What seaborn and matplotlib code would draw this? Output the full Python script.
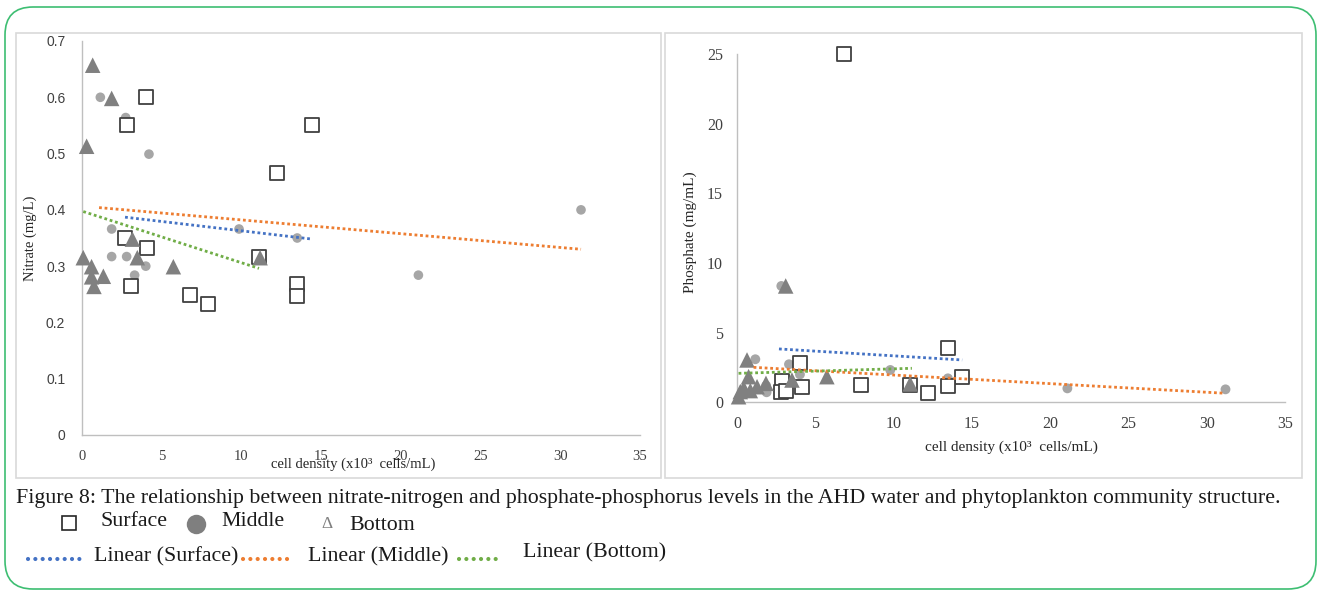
import numpy as np
import pandas as pd
import matplotlib
matplotlib.use("Agg")
import matplotlib.pyplot as plt
import seaborn as sns
from matplotlib.patches import FancyBboxPatch, Rectangle
from matplotlib.lines import Line2D
from matplotlib.transforms import IdentityTransform

# ---------------- data ----------------
# Left panel: Nitrate (mg/L) vs cell density (x10^3 cells/mL)
nit_surface_x = [4.0, 2.8, 14.4, 12.2, 2.7, 4.06, 11.1, 3.05, 6.8, 7.9, 13.5, 13.5]
nit_surface_y = [0.600, 0.550, 0.550, 0.466, 0.350, 0.333, 0.317, 0.265, 0.249, 0.233, 0.268, 0.247]
nit_middle_x = [1.15, 2.74, 4.2, 1.86, 9.85, 13.5, 1.86, 2.8, 4.0, 3.3, 31.3, 21.1]
nit_middle_y = [0.600, 0.564, 0.499, 0.366, 0.366, 0.350, 0.317, 0.317, 0.300, 0.284, 0.400, 0.284]
nit_bottom_x = [0.67, 1.86, 0.29, 3.16, 3.47, 0.08, 0.6, 0.6, 1.34, 0.75, 5.73, 11.17]
nit_bottom_y = [0.657, 0.598, 0.513, 0.348, 0.315, 0.315, 0.299, 0.281, 0.282, 0.264, 0.299, 0.315]
# linear trend lines (end points as shown)
nit_trend_surface_x = [2.7, 14.45]
nit_trend_surface_y = [0.387, 0.348]
nit_trend_middle_x = [1.07, 31.3]
nit_trend_middle_y = [0.404, 0.330]
nit_trend_bottom_x = [0.08, 11.1]
nit_trend_bottom_y = [0.397, 0.296]

# Right panel: Phosphate (mg/mL) vs cell density
pho_surface_x = [6.81, 13.45, 14.38, 13.5, 4.04, 4.13, 2.85, 2.81, 3.15, 7.91, 11.06, 12.19]
pho_surface_y = [25.0, 3.88, 1.79, 1.20, 2.80, 1.12, 1.55, 0.72, 0.84, 1.22, 1.27, 0.65]
pho_middle_x = [2.83, 1.17, 3.32, 4.02, 4.28, 2.87, 1.89, 9.79, 13.47, 21.1, 31.2, 1.86]
pho_middle_y = [8.35, 3.09, 2.73, 2.00, 0.96, 1.08, 0.72, 2.32, 1.72, 1.00, 0.93, 1.20]
pho_bottom_x = [3.11, 0.64, 5.74, 11.06, 3.51, 1.85, 1.28, 0.74, 0.21, 0.43, 0.85, 0.10]
pho_bottom_y = [8.35, 3.04, 1.84, 1.32, 1.60, 1.36, 1.12, 1.84, 0.77, 1.00, 0.84, 0.40]
pho_trend_surface_x = [2.68, 14.38]
pho_trend_surface_y = [3.83, 3.04]
pho_trend_middle_x = [1.06, 31.16]
pho_trend_middle_y = [2.51, 0.65]
pho_trend_bottom_x = [0.10, 11.17]
pho_trend_bottom_y = [2.08, 2.44]

x_ticks = [0, 5, 10, 15, 20, 25, 30, 35]
nit_ticks = [0, 0.1, 0.2, 0.3, 0.4, 0.5, 0.6, 0.7]
nit_tick_labels = ["0", "0.1", "0.2", "0.3", "0.4", "0.5", "0.6", "0.7"]
pho_ticks = [0, 5, 10, 15, 20, 25]

caption = ("Figure 8: The relationship between nitrate-nitrogen and phosphate-phosphorus levels "
           "in the AHD water and phytoplankton community structure.")
xlabel = "cell density (x10\u00b3  cells/mL)"

# ---------------- style ----------------
sns.set_theme(style="white")
plt.rcParams["font.family"] = ["Liberation Serif", "DejaVu Serif"]

W, H = 1319, 596
fig = plt.figure(figsize=(W / 100, H / 100), dpi=100)
fig.patch.set_facecolor("white")


def fr(x, y):
    return x / W, 1 - y / H


def axes_rect(x0, y0, x1, y1):
    return [x0 / W, 1 - y1 / H, (x1 - x0) / W, (y1 - y0) / H]


C_SURF_EDGE = "#404040"
C_MID = "#A6A6A6"
C_BOT = "#808080"
C_BLUE = "#4472C4"
C_ORANGE = "#ED7D31"
C_GREEN = "#70AD47"
SPINE = "#BFBFBF"

# panel frames
for (x0, y0, x1, y1) in [(16, 33, 661, 478), (665, 33, 1302, 478)]:
    fig.add_artist(Rectangle((x0, H - y1), x1 - x0, y1 - y0, transform=IdentityTransform(),
                             fill=False, edgecolor="#D9D9D9", lw=1.2, zorder=0))


def draw_panel(ax, sx, sy, mx, my, bx, by, trends, s_sq, s_ci, s_tr):
    sns.scatterplot(x=mx, y=my, ax=ax, marker="o", s=s_ci, color=C_MID,
                    edgecolor="none", linewidth=0, zorder=3, clip_on=False)
    sns.scatterplot(x=sx, y=sy, ax=ax, marker="s", s=s_sq, color="white",
                    edgecolor=C_SURF_EDGE, linewidth=1.3, zorder=4, clip_on=False)
    sns.scatterplot(x=bx, y=by, ax=ax, marker="^", s=s_tr, color=C_BOT,
                    edgecolor="none", linewidth=0, zorder=5, clip_on=False)
    for (tx, ty, col) in trends:
        sns.lineplot(x=tx, y=ty, ax=ax, color=col, lw=2.0, linestyle=(0, (1, 1)), zorder=6)
    for side in ["top", "right"]:
        ax.spines[side].set_visible(False)
    for side in ["left", "bottom"]:
        ax.spines[side].set_color(SPINE)
        ax.spines[side].set_linewidth(1.0)
    ax.set_facecolor("white")


# ---------------- left panel ----------------
ax1 = fig.add_axes(axes_rect(82, 41, 640, 435))
draw_panel(ax1, nit_surface_x, nit_surface_y, nit_middle_x, nit_middle_y, nit_bottom_x, nit_bottom_y,
           [(nit_trend_surface_x, nit_trend_surface_y, C_BLUE),
            (nit_trend_middle_x, nit_trend_middle_y, C_ORANGE),
            (nit_trend_bottom_x, nit_trend_bottom_y, C_GREEN)],
           s_sq=95, s_ci=48, s_tr=125)
ax1.set_xlim(0, 35)
ax1.set_ylim(0, 0.7)
ax1.set_xticks(x_ticks)
ax1.set_xticklabels([str(t) for t in x_ticks], fontsize=10.5, color="#404040")
ax1.set_yticks(nit_ticks)
ax1.set_yticklabels(nit_tick_labels, fontsize=10, color="#404040", family="Liberation Sans")
ax1.tick_params(axis="both", length=0)
ax1.tick_params(axis="y", pad=12)
ax1.tick_params(axis="x", pad=11)
ax1.set_xlabel(xlabel, fontsize=10.5, color="#262626")
ax1.xaxis.set_label_coords((353 - 82) / (640 - 82), (435 - 458) / (435 - 41))
ax1.set_ylabel("Nitrate (mg/L)", fontsize=10.5, color="#262626")
ax1.yaxis.set_label_coords((37 - 82) / (640 - 82), 0.5)

# ---------------- right panel ----------------
ax2 = fig.add_axes(axes_rect(737, 54, 1285, 402.3))
draw_panel(ax2, pho_surface_x, pho_surface_y, pho_middle_x, pho_middle_y, pho_bottom_x, pho_bottom_y,
           [(pho_trend_surface_x, pho_trend_surface_y, C_BLUE),
            (pho_trend_middle_x, pho_trend_middle_y, C_ORANGE),
            (pho_trend_bottom_x, pho_trend_bottom_y, C_GREEN)],
           s_sq=90, s_ci=50, s_tr=125)
ax2.set_xlim(0, 35)
ax2.set_ylim(0, 25)
ax2.set_xticks(x_ticks)
ax2.set_xticklabels([str(t) for t in x_ticks], fontsize=11.5, color="#404040")
ax2.set_yticks(pho_ticks)
ax2.set_yticklabels([str(t) for t in pho_ticks], fontsize=11.5, color="#404040")
ax2.tick_params(axis="both", length=4, width=1, color=SPINE, direction="out")
ax2.tick_params(axis="y", pad=6)
ax2.tick_params(axis="x", pad=6)
ax2.set_xlabel(xlabel, fontsize=11, color="#262626")
ax2.xaxis.set_label_coords(0.5, (402.3 - 441) / (402.3 - 54))
ax2.set_ylabel("Phosphate (mg/mL)", fontsize=11, color="#262626")
ax2.yaxis.set_label_coords((697 - 737) / (1285 - 737), (402.3 - 232) / (402.3 - 54))

# ---------------- caption & legend ----------------
cap = fig.text(*fr(16, 498), caption, fontsize=13.5, ha="left", va="center", color="#1a1a1a")
fig.canvas.draw()
w = cap.get_window_extent().width
cap.set_fontsize(13.5 * (1267 / w))

leg_fs = cap.get_fontsize()
fig.add_artist(Line2D([fr(69, 523)[0]], [fr(69, 523)[1]], marker="s", markersize=9.5,
                      markerfacecolor="white", markeredgecolor="#262626", markeredgewidth=1.2,
                      linestyle="none", transform=fig.transFigure))
fig.text(*fr(100, 521), "Surface", fontsize=leg_fs, ha="left", va="center", color="#1a1a1a")
fig.add_artist(Line2D([fr(196, 524)[0]], [fr(196, 524)[1]], marker="o", markersize=14,
                      markerfacecolor="#7F7F7F", markeredgecolor="none",
                      linestyle="none", transform=fig.transFigure))
fig.text(*fr(221, 522), "Middle", fontsize=leg_fs, ha="left", va="center", color="#1a1a1a")
fig.text(*fr(327, 524), "\u0394", fontsize=leg_fs * 0.8, ha="center", va="center", color="#7F7F7F")
fig.text(*fr(349, 526), "Bottom", fontsize=leg_fs, ha="left", va="center", color="#1a1a1a")

for (x0, x1, tx, ty, col, lab) in [(28, 80, 94, 557, C_BLUE, "Linear (Surface)"),
                                   (243, 293, 308, 557, C_ORANGE, "Linear (Middle)"),
                                   (459, 499, 523, 553, C_GREEN, "Linear (Bottom)")]:
    p0, p1 = fr(x0, 559), fr(x1, 559)
    fig.add_artist(Line2D([p0[0], p1[0]], [p0[1], p1[1]], color=col, lw=3.0,
                          linestyle=(0, (0.01, 1.75)), dash_capstyle="round",
                          transform=fig.transFigure))
    fig.text(*fr(tx, ty), lab, fontsize=leg_fs, ha="left", va="center", color="#1a1a1a")

# green rounded outer frame
fig.add_artist(FancyBboxPatch((5, H - 589), 1311, 582, boxstyle="round,pad=0,rounding_size=28",
                              transform=IdentityTransform(), fill=False,
                              edgecolor="#3DBE72", lw=1.2, zorder=10))

fig.savefig("out.png", dpi=100, facecolor="white")
